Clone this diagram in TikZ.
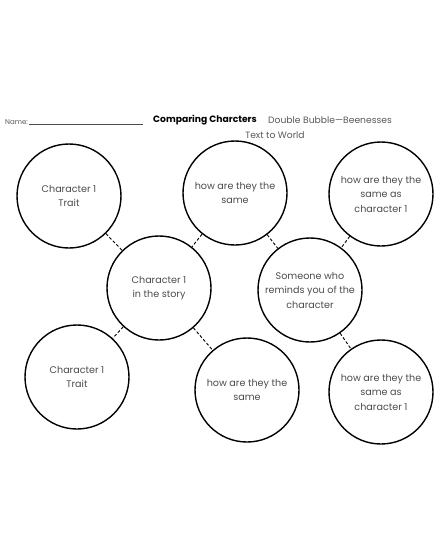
\documentclass[tikz,border=0pt]{standalone}
\usepackage{fontspec}
\setmainfont{Poppins}
\begin{document}
\begin{tikzpicture}[x=1pt,y=-1pt,
  bubble/.style={circle,draw=black,line width=1.4pt,minimum size=104pt,inner sep=0pt,align=center,
    font=\fontsize{9.6}{14.5}\selectfont,text=black!70},
  link/.style={draw=black,line width=0.9pt,dash pattern=on 3pt off 2pt},
  hdr/.style={inner sep=0pt,text=black!65,font=\fontsize{9.2}{10}\selectfont}]
\useasboundingbox (0,0) rectangle (440,560);
\fill[white] (0,0) rectangle (440,560);
\node[hdr,anchor=west,font=\fontsize{7}{8}\selectfont] (name) at (5,122) {Name:};
\coordinate (ul1) at (29,124.5);
\coordinate (ul2) at (143,124.5);
\draw[line width=0.5pt,black!70] (ul1) -- (ul2);
\node[hdr,anchor=west,text=black,font=\fontsize{9.2}{10}\selectfont\bfseries] (title) at (153,120.5) {Comparing Charcters};
\node[hdr,anchor=west] (sub) at (268,120.5) {Double Bubble---Beenesses};
\node[hdr] (ttw) at (275,135) {Text to World};

\node[bubble] (tl) at (69,196) {Character 1\\Trait};
\node[bubble] (tm) at (235,193) {how are they the\\same};
\node[bubble] (tr) at (381,194) {how are they the\\same as\\character 1};
\node[bubble] (cl) at (159,288) {Character 1\\in the story};
\node[bubble] (cr) at (310,290) {Someone who\\reminds you of the\\character};
\node[bubble] (bl) at (77,377) {Character 1\\Trait};
\node[bubble] (bm) at (247,390) {how are they the\\same};
\node[bubble] (br) at (381,392) {how are they the\\same as\\character 1};

\draw[link] (tl) -- (cl);
\draw[link] (tm) -- (cl);
\draw[link] (cl) -- (bl);
\draw[link] (cl) -- (bm);
\draw[link] (tm) -- (cr);
\draw[link] (tr) -- (cr);
\draw[link] (cr) -- (br);
\end{tikzpicture}
\end{document}
